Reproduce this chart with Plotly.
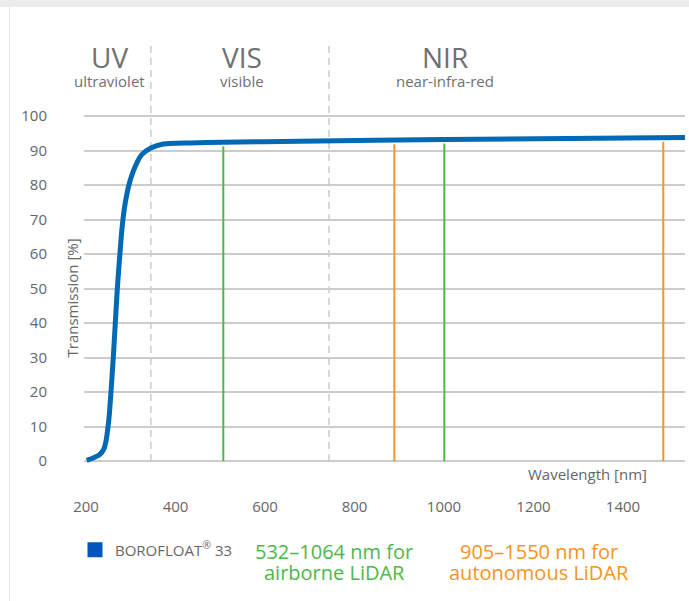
import numpy as np
import plotly.graph_objects as go

# ---------------- data ----------------
wavelength_nm = [201.6, 215, 231, 240, 244.7, 249.8, 252.5, 261, 270, 279.8, 285, 291,
                 298, 305.7, 315, 324.5, 345, 372.7, 432, 506, 678, 1000, 1538.5]
transmission = [0.2, 0.8, 1.9, 3.5, 5.8, 10.6, 14, 30, 50, 66.6, 72.5, 77.2,
                81, 84, 86.8, 88.8, 90.7, 91.9, 92.2, 92.4, 92.7, 93.2, 93.8]

region_bounds_nm = [345, 743]
region_names = ["UV", "VIS", "NIR"]
region_subs = ["ultraviolet", "visible", "near-infra-red"]
region_label_nm = [253.6, 548.6, 1003.3]

lidar_airborne_nm = [506.8, 1000.7]     # green lines
lidar_autonomous_nm = [889, 1490]       # orange lines

x_ticks = [200, 400, 600, 800, 1000, 1200, 1400]
y_ticks = [0, 10, 20, 30, 40, 50, 60, 70, 80, 90, 100]

# ---------------- layout geometry ----------------
W, H = 689, 601
L, R, T, B = 84, 4, 43, 135
pw, ph = W - L - R, H - T - B

def px(p):
    return (p - L) / pw

def py(q):
    return (H - B - q) / ph

BLUE = "#0069b4"
GREEN = "#4db848"
ORANGE = "#f7941e"
GRAY_TXT = "#666666"
FONT = "Open Sans"

fig = go.Figure()

# lidar lines from 0 up to the curve
for xs, col in [(lidar_airborne_nm, GREEN), (lidar_autonomous_nm, ORANGE)]:
    for xv in xs:
        top = float(np.interp(xv, wavelength_nm, transmission))
        fig.add_trace(go.Scatter(x=[xv, xv], y=[0, top - 1.2], mode="lines",
                                 line=dict(color=col, width=2), showlegend=False,
                                 hoverinfo="skip"))

# curve
fig.add_trace(go.Scatter(x=wavelength_nm, y=transmission, mode="lines",
                         line=dict(color=BLUE, width=5, shape="spline", smoothing=0.6),
                         showlegend=False))

# legend entry
fig.add_trace(go.Scatter(x=[None], y=[None], mode="markers",
                         marker=dict(symbol="square", size=15, color="#0055b8"),
                         name="BOROFLOAT<sup>®</sup> 33"))

shapes = []
for xb in region_bounds_nm:
    shapes.append(dict(type="line", xref="x", yref="y", x0=xb, x1=xb, y0=0, y1=121.2,
                       line=dict(color="#bdbdbd", width=1.2, dash="7px,5px"), layer="below"))
# page decoration
shapes.append(dict(type="rect", xref="paper", yref="paper", x0=px(0), x1=px(W),
                   y0=py(7), y1=py(0), fillcolor="#ebebeb", line=dict(width=0)))
shapes.append(dict(type="line", xref="paper", yref="paper", x0=px(9.5), x1=px(9.5),
                   y0=py(7), y1=py(H), line=dict(color="#e3e3e3", width=1)))

ann = []
for name, sub, xl in zip(region_names, region_subs, region_label_nm):
    ann.append(dict(x=xl, y=py(57), xref="x", yref="paper", text=name, showarrow=False,
                    font=dict(family=FONT, size=28, color="#707070"), yanchor="middle"))
    ann.append(dict(x=xl, y=py(81), xref="x", yref="paper", text=sub, showarrow=False,
                    font=dict(family=FONT, size=15, color="#707070"), yanchor="middle"))

ann.append(dict(x=px(649), y=py(474), xref="paper", yref="paper", text="Wavelength [nm]",
                showarrow=False, xanchor="right", yanchor="middle",
                font=dict(family=FONT, size=15, color=GRAY_TXT)))
ann.append(dict(x=px(71.5), y=py(298), xref="paper", yref="paper", text="Transmission [%]",
                showarrow=False, textangle=-90, xanchor="center", yanchor="middle",
                font=dict(family=FONT, size=15, color=GRAY_TXT)))

for cx, lines, col in [(334, ["532–1064 nm for", "airborne LiDAR"], GREEN),
                       (539, ["905–1550 nm for", "autonomous LiDAR"], ORANGE)]:
    for i, t in enumerate(lines):
        ann.append(dict(x=px(cx), y=py(551 + 21 * i), xref="paper", yref="paper", text=t,
                        showarrow=False, xanchor="center", yanchor="middle",
                        font=dict(family=FONT, size=20, color=col)))

fig.update_layout(
    width=W, height=H,
    margin=dict(l=L, r=R, t=T, b=B, pad=0),
    paper_bgcolor="white", plot_bgcolor="white",
    font=dict(family=FONT, size=15, color=GRAY_TXT),
    shapes=shapes, annotations=ann,
    showlegend=True,
    legend=dict(orientation="h", x=px(75), y=py(550), xanchor="left", yanchor="middle",
                font=dict(family=FONT, size=15, color=GRAY_TXT), bgcolor="rgba(0,0,0,0)"),
    xaxis=dict(range=[195.53, 1538.5], tickvals=x_ticks, showgrid=False, zeroline=False,
               showline=False, ticks="", ticklabelstandoff=30,
               tickfont=dict(family=FONT, size=15, color=GRAY_TXT)),
    yaxis=dict(range=[-(466 - 461) / 3.45, (461 - 43) / 3.45], tickvals=y_ticks,
               showgrid=True, gridcolor="#cccccc", gridwidth=1.5, zeroline=False,
               showline=False, ticks="", ticklabelstandoff=36,
               tickfont=dict(family=FONT, size=15, color=GRAY_TXT)),
)

fig.write_html("out.html", config={"displayModeBar": False},
               post_script="document.body.style.margin='0';document.body.style.overflow='hidden';")
